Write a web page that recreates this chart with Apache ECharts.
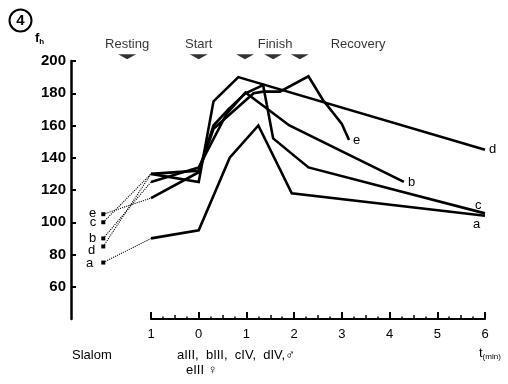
<!DOCTYPE html>
<html>
<head>
<meta charset="utf-8">
<script src="https://cdn.jsdelivr.net/npm/echarts@6/dist/echarts.min.js"></script>
<style>html,body{margin:0;padding:0;background:#fff}#c{width:508px;height:384px}</style>
</head>
<body>
<div id="c"></div>
<script>
// ---- data ----
const letters = ['a', 'b', 'c', 'd', 'e'];
const aT = [-2, -1, 0, 0.65, 1.25, 1.95, 6];
const aV = [75, 90, 95, 140, 160, 118, 104];
const bT = [-2, -1, 0, 0.58, 0.98, 1.9, 4.3];
const bV = [90, 125, 134, 167, 180.5, 160, 125];
const cT = [-2, -1, 0, 0.31, 0.62, 0.98, 1.35, 1.56, 2.3, 6];
const cV = [100, 130, 132, 160, 170, 180, 185, 152, 134, 105.5];
const dT = [-2, -1, 0, 0.31, 0.83, 6];
const dV = [85, 130, 125, 175, 190, 145];
const eT = [-2, -1, 0, 0.31, 1.15, 1.35, 1.7, 2.3, 2.6, 3.0, 3.15];
const eV = [105, 115, 131, 158, 180, 181, 181, 190.5, 176, 161, 151];
const xTickValues = [-1, 0, 1, 2, 3, 4, 5, 6];
const xTickLabels = ['1', '0', '1', '2', '3', '4', '5', '6'];
const yTickValues = [60, 80, 100, 120, 140, 160, 180, 200];
const phaseNames = ['Resting', 'Start', 'Finish', 'Recovery'];
const phaseTimes = [-1.5, 0, 1.6, 3.34];
const markerTimes = [-1.5, 0, 0.97, 1.56, 2.12];

// ---- layout ----
const FONT = 'Liberation Sans, Arial, Helvetica, sans-serif';
const yAxisX = 71, tAxisLeft = 151, tAxisRight = 485, W = 508;
const tMin = xTickValues[0], tMax = xTickValues[xTickValues.length - 1];
const pxPerMin = (tAxisRight - tAxisLeft) / (tMax - tMin);
const dataXMin = tMin - (tAxisLeft - yAxisX) / pxPerMin;

// ---- build ----
const seriesTimes = { a: aT, b: bT, c: cT, d: dT, e: eT };
const seriesVals = { a: aV, b: bV, c: cV, d: dV, e: eV };
const endOffsets = { a: [-16, 9], b: [0, 0], c: [-14, -8], d: [0, 0], e: [0, 0] };
const restOffsets = { a: [-3, 1], b: [0, 0], c: [0, 0], d: [-1, 4], e: [0, -1] };

const series = [];
letters.forEach(k => {
  const T = seriesTimes[k], V = seriesVals[k];
  series.push({
    type: 'line', xAxisIndex: 0, yAxisIndex: 0, silent: true, animation: false,
    data: [
      { value: [T[0], V[0]], symbol: 'rect', symbolSize: 4,
        label: { show: true, position: 'left', distance: 5, formatter: k, offset: restOffsets[k],
                 color: '#000', fontSize: 13, fontFamily: FONT } },
      { value: [T[1], V[1]], symbol: 'none' }
    ],
    showAllSymbol: true,
    itemStyle: { color: '#000' },
    lineStyle: { color: '#000', width: 1.1, type: 'dotted' }
  });
  const pts = [];
  for (let i = 1; i < T.length; i++) pts.push([T[i], V[i]]);
  series.push({
    type: 'line', xAxisIndex: 0, yAxisIndex: 0, silent: true, animation: false,
    data: pts, symbol: 'none',
    lineStyle: { color: '#000', width: 2.6, join: 'miter' },
    endLabel: { show: true, formatter: k, color: '#000', fontSize: 13, fontFamily: FONT,
                distance: 4, offset: endOffsets[k] }
  });
});

series.push({
  type: 'scatter', xAxisIndex: 1, yAxisIndex: 1, clip: false, silent: true, animation: false,
  symbol: 'path://M0,0 L20,0 L10,6 Z', symbolSize: [18, 5],
  itemStyle: { color: '#000' },
  data: markerTimes.map(t => [t, 202.6])
});
series.push({
  type: 'scatter', xAxisIndex: 1, yAxisIndex: 1, clip: false, silent: true, animation: false,
  symbolSize: 0,
  data: phaseTimes.map((t, i) => ({ value: [t, 210], name: phaseNames[i] })),
  label: { show: true, position: 'inside', formatter: p => p.name,
           color: '#000', fontSize: 13, fontFamily: FONT }
});

const chart = echarts.init(document.getElementById('c'));
chart.setOption({
  animation: false,
  backgroundColor: '#fff',
  grid: [
    { left: yAxisX, right: W - tAxisRight, top: 61, bottom: 65 },
    { left: tAxisLeft, right: W - tAxisRight, top: 61, bottom: 65 }
  ],
  xAxis: [
    { type: 'value', gridIndex: 0, min: dataXMin, max: tMax, show: false },
    { type: 'value', gridIndex: 1, min: tMin, max: tMax, interval: 0.5, position: 'bottom',
      axisLine: { show: true, onZero: false, lineStyle: { color: '#000', width: 2 } },
      axisTick: { show: true, inside: true, length: 4, lineStyle: { color: '#000', width: 1.5 } },
      minorTick: { show: true, splitNumber: 2, length: 2.5, lineStyle: { color: '#000', width: 1.5 } },
      axisLabel: { show: false }, splitLine: { show: false } },
    { type: 'value', gridIndex: 1, min: tMin, max: tMax, interval: 1, position: 'bottom',
      axisLine: { show: false, onZero: false },
      axisTick: { show: true, inside: true, length: 7, lineStyle: { color: '#000', width: 2 } },
      axisLabel: { show: true, margin: 9, color: '#000', fontSize: 13, fontFamily: FONT,
                   formatter: v => { const i = xTickValues.indexOf(v); return i >= 0 ? xTickLabels[i] : ''; } },
      splitLine: { show: false } }
  ],
  yAxis: [
    { type: 'value', gridIndex: 0, min: 40, max: 200, interval: 20,
      axisLine: { show: true, onZero: false, lineStyle: { color: '#000', width: 2.5 } },
      axisTick: { show: true, inside: true, length: 5, customValues: yTickValues,
                  lineStyle: { color: '#000', width: 2 } },
      axisLabel: { show: true, customValues: yTickValues, margin: 5, color: '#000',
                   fontSize: 15, fontWeight: 'bold', fontFamily: FONT },
      splitLine: { show: false } },
    { type: 'value', gridIndex: 1, min: 40, max: 200, show: false }
  ],
  graphic: [
    { type: 'circle', shape: { cx: 20.5, cy: 20.5, r: 11 }, style: { fill: 'none', stroke: '#000', lineWidth: 2 } },
    { type: 'text', x: 20.5, y: 21, style: { text: '4', fill: '#000', font: 'bold 15px ' + FONT, align: 'center', verticalAlign: 'middle' } },
    { type: 'text', x: 35, y: 30, style: { text: '{f|f}{h|h}', fill: '#000',
        rich: { f: { fontSize: 13, fontWeight: 'bold', fontFamily: FONT }, h: { fontSize: 8, fontWeight: 'bold', fontFamily: FONT, padding: [8, 0, 0, 0] } } } },
    { type: 'text', x: 72, y: 355, style: { text: 'Slalom', fill: '#000', font: '13px ' + FONT, verticalAlign: 'middle' } },
    { type: 'text', x: 177, y: 355, style: { text: 'aIII,  bIII,  cIV,  dIV,\u2642', fill: '#000', font: '13px ' + FONT, verticalAlign: 'middle' } },
    { type: 'text', x: 186, y: 370, style: { text: 'eIII \u2640', fill: '#000', font: '13px ' + FONT, verticalAlign: 'middle' } },
    { type: 'text', x: 479, y: 346, style: { text: '{t|t}{m|(min)}', fill: '#000',
        rich: { t: { fontSize: 13, fontFamily: FONT }, m: { fontSize: 8, fontFamily: FONT, padding: [7, 0, 0, 0] } } } }
  ],
  series: series
});
</script>
</body>
</html>
